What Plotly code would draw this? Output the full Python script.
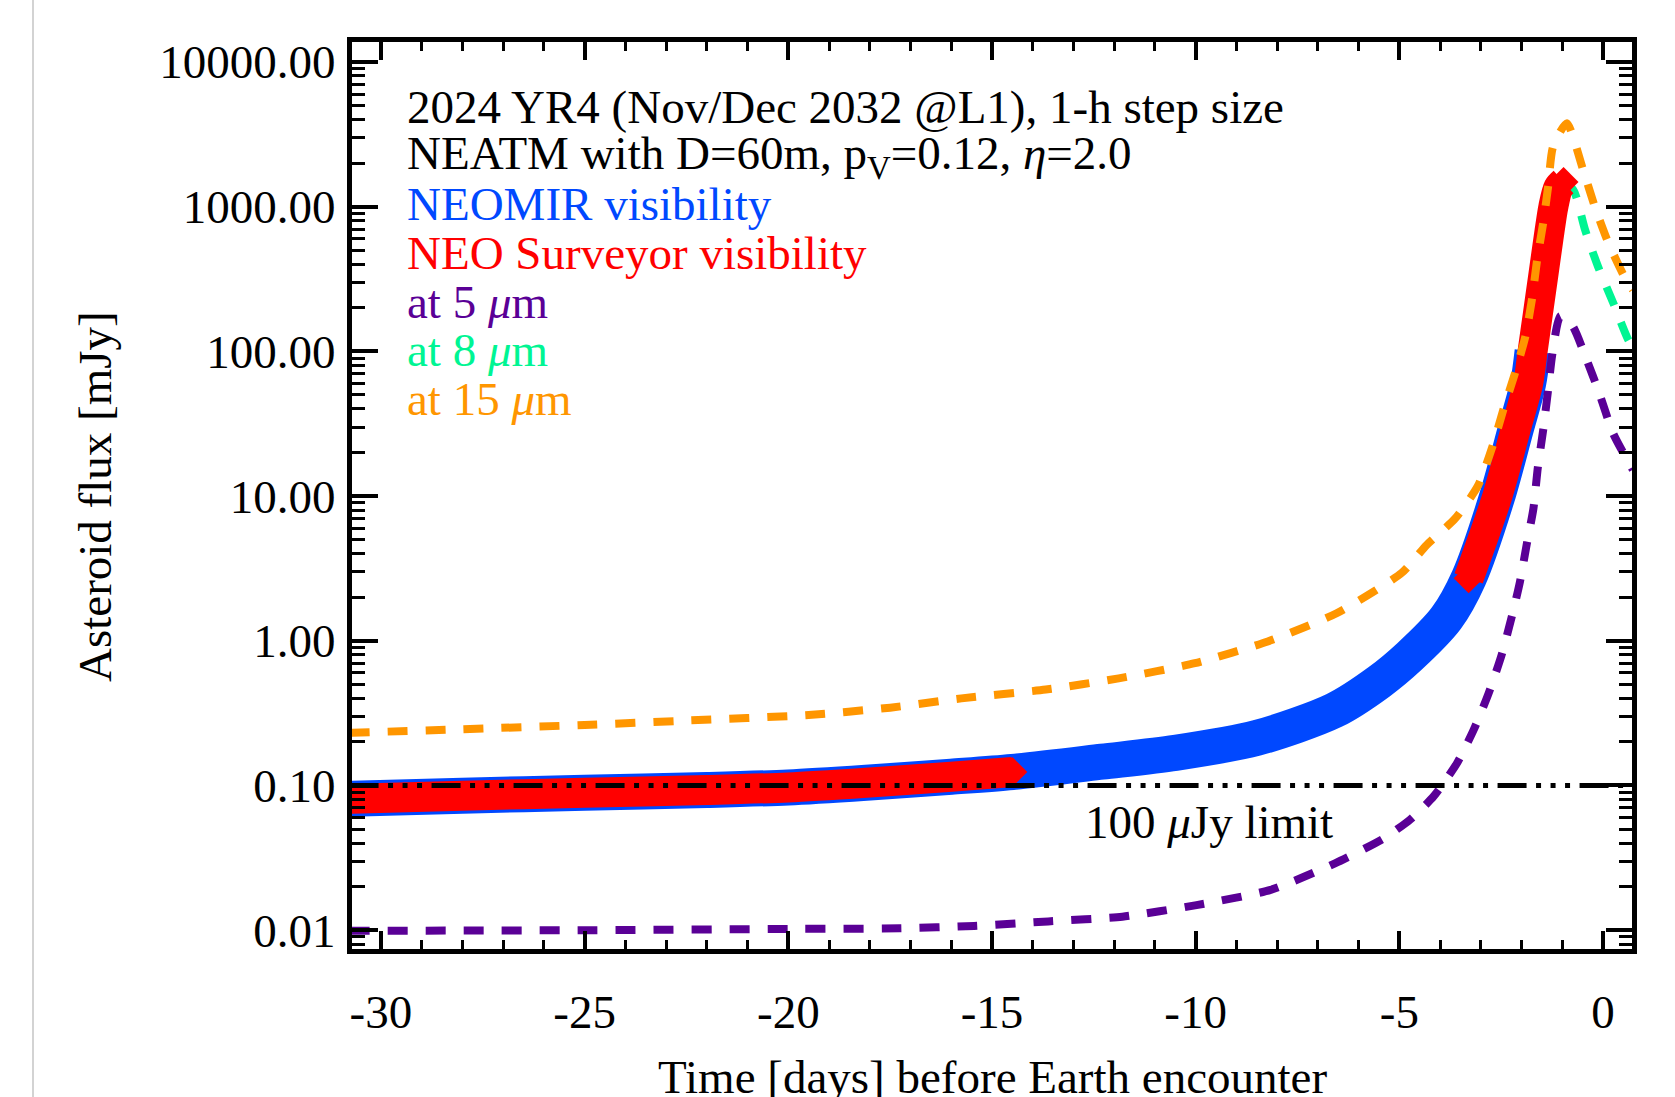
import plotly.graph_objects as go

# ---- asteroid 2024 YR4 flux curves (mJy) versus time (days before Earth encounter) ----
# 15 micron model flux
DAYS_15UM = [-30.77, -28, -25, -22.5, -19.5, -17.5, -15.75, -13.68, -11.89, -10.02, -8.23, -6.54,
             -4.94, -4.33, -3.63, -3.07, -2.72, -2.45, -2.16, -1.91, -1.74, -1.62, -1.47, -1.35,
             -1.23, -0.89, -0.49, -0.2, 0.12, 0.54, 0.73]
FLUX_15UM = [0.231, 0.245, 0.262, 0.281, 0.307, 0.345, 0.40, 0.46, 0.55, 0.70, 0.99, 1.55,
             2.95, 4.59, 7.0, 11.8, 21.8, 39.4, 71, 126, 234, 428, 771, 1368,
             2587, 3770, 1795, 995, 570, 321, 266]

# 5 micron model flux
DAYS_5UM = [-30.77, -25, -20, -17.26, -15.44, -13.62, -11.8, -9.98, -8.16, -6.58, -5.39, -4.74,
            -4.16, -3.59, -3.18, -2.81, -2.49, -2.24, -2.04, -1.87, -1.71, -1.6, -1.47, -1.35,
            -1.25, -1.05, -0.75, -0.4, -0.12, 0.25, 0.73]
FLUX_5UM = [0.0099, 0.0100, 0.0102, 0.0103, 0.0107, 0.0115, 0.0124, 0.0149, 0.019, 0.029, 0.043, 0.058,
            0.084, 0.142, 0.241, 0.433, 0.80, 1.47, 2.56, 4.71, 8.2, 15.9, 28.6, 54,
            94, 175, 150, 87, 54, 27, 15.2]

# 8 micron model flux (also the track drawn for the visibility windows)
DAYS_8UM = [-30.77, -28, -25, -22, -20, -18, -16, -14.5, -12.3, -10.5, -8.5, -6.6,
            -5.5, -4.75, -3.85, -3.3, -2.6, -2.15, -1.84, -1.73, -1.6, -1.47, -1.34, -1.22,
            -1.1, -0.97, -0.73, -0.44, -0.12, 0.25, 0.62, 0.73]
FLUX_8UM = [0.081, 0.085, 0.089, 0.093, 0.097, 0.105, 0.115, 0.124, 0.146, 0.168, 0.213, 0.33,
            0.52, 0.78, 1.43, 2.7, 9.9, 28.6, 60, 100, 182, 331, 603, 1000,
            1350, 1480, 1303, 690, 383, 216, 120, 107]

# visibility windows (start day, end day)
NEOMIR_WINDOWS = [(-30.77, -1.73)]
NEOS_WINDOWS = [(-30.77, -14.5), (-3.3, -0.97)]

LIMIT_MJY = 0.1

# axis ticks
Y_TICKVALS = [0.01, 0.1, 1, 10, 100, 1000, 10000]
Y_TICKTEXT = ["0.01", "0.10", "1.00", "10.00", "100.00", "1000.00", "10000.00"]
X_TICKVALS = [-30, -25, -20, -15, -10, -5, 0]
X_TICKTEXT = ["-30", "-25", "-20", "-15", "-10", "-5", "0"]

BLUE = "#0048FF"
RED = "#FF0000"
PURPLE = "#5A0096"
GREEN = "#00F593"
ORANGE = "#FF9600"
FONT = "Liberation Serif"
FS = 47

W, H = 1675, 1097
PL, PR, PT, PB = 352, 1632, 42, 949  # plot-area pixel edges


def px(x):
    return (x - PL) / (PR - PL)


def py(y):
    return (PB - y) / (PB - PT)


def window(days, flux, lo, hi):
    pts = [(d, f) for d, f in zip(days, flux) if lo <= d <= hi]
    return [p[0] for p in pts], [p[1] for p in pts]


fig = go.Figure()

# 8 micron dashed curve (lies under the visibility bands)
fig.add_trace(go.Scatter(x=DAYS_8UM, y=FLUX_8UM, mode="lines",
                         line=dict(color=GREEN, width=8, dash="20px,18px", shape="spline", smoothing=0.8)))

# NEOMIR visibility band
for lo, hi in NEOMIR_WINDOWS:
    xs, ys = window(DAYS_8UM, FLUX_8UM, lo, hi)
    fig.add_trace(go.Scatter(x=xs, y=ys, mode="lines",
                             line=dict(color=BLUE, width=36, shape="spline", smoothing=0.8)))

# NEO Surveyor visibility band
for lo, hi in NEOS_WINDOWS:
    xs, ys = window(DAYS_8UM, FLUX_8UM, lo, hi)
    fig.add_trace(go.Scatter(x=xs, y=ys, mode="lines",
                             line=dict(color=RED, width=30, shape="spline", smoothing=0.8)))
    fig.add_trace(go.Scatter(x=[xs[0], xs[-1]], y=[ys[0], ys[-1]], mode="markers",
                             marker=dict(symbol="diamond", size=23, color=RED, line=dict(width=0))))

# 5 and 15 micron dashed curves
fig.add_trace(go.Scatter(x=DAYS_5UM, y=FLUX_5UM, mode="lines",
                         line=dict(color=PURPLE, width=8, dash="20px,18px", shape="spline", smoothing=0.6)))
fig.add_trace(go.Scatter(x=DAYS_15UM, y=FLUX_15UM, mode="lines",
                         line=dict(color=ORANGE, width=8, dash="20px,18px", shape="spline", smoothing=0.6)))

# 100 microJy detection limit
fig.add_trace(go.Scatter(x=[DAYS_8UM[0], DAYS_8UM[-1]], y=[LIMIT_MJY, LIMIT_MJY], mode="lines",
                         line=dict(color="black", width=5,
                                   dash="29px,9.5px,5px,9.5px,5px,9.5px,5px,9.5px")))

axis_common = dict(showline=True, linecolor="black", linewidth=5, mirror="allticks",
                   ticks="inside", tickcolor="black", showgrid=False, zeroline=False,
                   tickfont=dict(family=FONT, size=FS, color="black"))

minor_y = [m * 10 ** k for k in range(-3, 5) for m in range(2, 10)]

fig.update_xaxes(range=[-30.71, 0.71], tickvals=X_TICKVALS, ticktext=X_TICKTEXT,
                 ticklen=18, tickwidth=4, ticklabelstandoff=18,
                 minor=dict(ticks="inside", ticklen=9, tickwidth=3, dtick=1, tick0=0,
                            tickcolor="black", showgrid=False),
                 **axis_common)
fig.update_yaxes(type="log", range=[-2.13, 4.138], tickvals=Y_TICKVALS, ticktext=Y_TICKTEXT,
                 ticklen=26, tickwidth=4, ticklabelstandoff=2,
                 minor=dict(ticks="inside", ticklen=13, tickwidth=3, tickvals=minor_y,
                            tickcolor="black", showgrid=False),
                 **axis_common)

ann = []
legend_lines = [
    ("2024 YR4 (Nov/Dec 2032 @L1), 1-h step size", "black"),
    ("NEATM with D=60m, p<sub>V</sub>=0.12, <i>η</i>=2.0", "black"),
    ("NEOMIR visibility", BLUE),
    ("NEO Surveyor visibility", RED),
    ("at 5 <i>μ</i>m", PURPLE),
    ("at 8 <i>μ</i>m", GREEN),
    ("at 15 <i>μ</i>m", ORANGE),
]
line_y = [107, 156, 204, 253, 302, 350, 399]
for (txt, col), yy in zip(legend_lines, line_y):
    ann.append(dict(text=txt, x=px(405), y=py(yy), xref="paper", yref="paper",
                    xanchor="left", yanchor="middle", showarrow=False,
                    font=dict(family=FONT, size=FS, color=col)))

ann.append(dict(text="100 <i>μ</i>Jy limit", x=px(1209), y=py(822), xref="paper", yref="paper",
                xanchor="center", yanchor="middle", showarrow=False,
                font=dict(family=FONT, size=FS, color="black")))
ann.append(dict(text="Time [days] before Earth encounter", x=px(992), y=py(1077),
                xref="paper", yref="paper", xanchor="center", yanchor="middle", showarrow=False,
                font=dict(family=FONT, size=FS, color="black")))
ann.append(dict(text="Asteroid flux [mJy]", x=px(95), y=py(497), textangle=-90,
                xref="paper", yref="paper", xanchor="center", yanchor="middle", showarrow=False,
                font=dict(family=FONT, size=FS, color="black")))

fig.update_layout(
    width=W, height=H,
    margin=dict(l=PL, r=W - PR, t=PT, b=H - PB, pad=0),
    paper_bgcolor="white", plot_bgcolor="white",
    showlegend=False,
    annotations=ann,
    shapes=[dict(type="line", xref="paper", yref="paper", x0=px(33), x1=px(33),
                 y0=py(H), y1=py(0), line=dict(color="#c4c4c4", width=1.5))],
)

fig.write_html("out.html", config=dict(displayModeBar=False))
